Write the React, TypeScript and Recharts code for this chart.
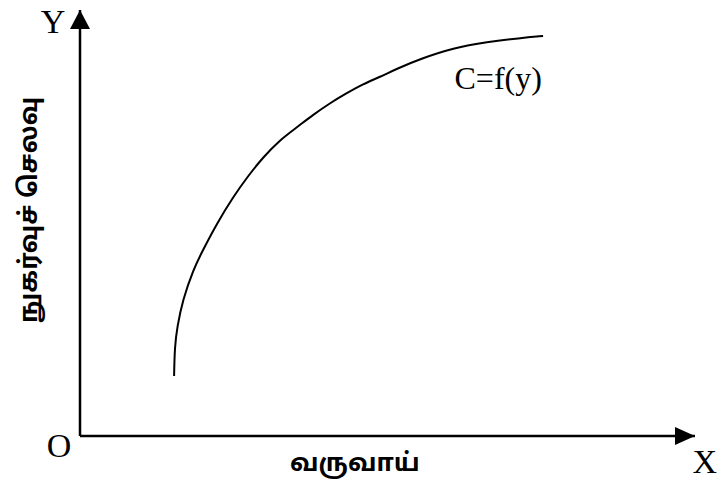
import React from "react";
import { LineChart, Line, XAxis, YAxis, ReferenceDot, ReferenceLine } from "recharts";

// income (x) vs consumption spending (y)
const incomeVals = [15.3, 15.4, 15.8, 16.7, 18.4, 20.0, 22.3, 24.9, 27.2, 29.8, 32.5, 35.3, 37.9, 40.7, 43.4, 46.0, 48.8, 51.5, 55.3, 60.7, 66.2, 71.5, 75.3];
const spendVals = [14.1, 20.9, 25.6, 31.9, 39.0, 43.7, 50.0, 56.1, 60.8, 65.5, 69.5, 72.5, 75.4, 78.2, 80.5, 82.6, 84.3, 86.2, 88.5, 91.1, 92.5, 93.4, 93.9];

const curve = incomeVals.map((x, i) => ({ x, y: spendVals[i] }));

const serif = "'Liberation Serif', 'Times New Roman', serif";
const tamil = "'Noto Sans Tamil', 'Lohit Tamil', 'Noto Sans', sans-serif";

const txt = (text: string, size: number, font: string, rotate = 0, weight = "normal") => (props: any) => (
  <text
    x={props.cx}
    y={props.cy}
    fontSize={size}
    fontFamily={font}
    fontWeight={weight}
    fill="#000"
    textAnchor="middle"
    dominantBaseline="central"
    transform={rotate ? `rotate(${rotate} ${props.cx} ${props.cy})` : undefined}
  >
    {text}
  </text>
);

const upArrow = (p: any) => (
  <polygon points={`${p.cx},${p.cy} ${p.cx - 10},${p.cy + 19} ${p.cx + 10},${p.cy + 19}`} fill="#000" />
);
const rightArrow = (p: any) => (
  <polygon points={`${p.cx},${p.cy} ${p.cx - 20},${p.cy - 9} ${p.cx - 20},${p.cy + 9}`} fill="#000" />
);

export default function App() {
  return (
    <div style={{ position: "absolute", left: 0, top: 0, width: 720, height: 492, background: "#fff" }}>
      <LineChart width={720} height={492} data={curve} margin={{ top: 10, right: 25, bottom: 56, left: 80 }}>
        <XAxis type="number" dataKey="x" domain={[0, 100]} hide />
        <YAxis type="number" dataKey="y" domain={[0, 100]} hide />
        <ReferenceLine x={0} stroke="#000" strokeWidth={2.5} ifOverflow="visible" />
        <ReferenceLine y={0} stroke="#000" strokeWidth={2.5} ifOverflow="visible" />
        <Line type="basis" dataKey="y" stroke="#000" strokeWidth={2} dot={false} isAnimationActive={false} />
        <ReferenceDot x={0} y={100} r={0} ifOverflow="visible" shape={upArrow} />
        <ReferenceDot x={100} y={0} r={0} ifOverflow="visible" shape={rightArrow} />
        <ReferenceDot x={-4.4} y={97.4} r={0} ifOverflow="visible" shape={txt("Y", 34, serif)} />
        <ReferenceDot x={-3.4} y={-2.3} r={0} ifOverflow="visible" shape={txt("O", 34, serif)} />
        <ReferenceDot x={101.6} y={-5.9} r={0} ifOverflow="visible" shape={txt("X", 34, serif)} />
        <ReferenceDot x={68.0} y={84.0} r={0} ifOverflow="visible" shape={txt("C=f(y)", 32, serif)} />
        <ReferenceDot x={44.7} y={-6.8} r={0} ifOverflow="visible" shape={txt("வருவாய்", 25, tamil, 0, "bold")} />
        <ReferenceDot x={-8.1} y={53.1} r={0} ifOverflow="visible" shape={txt("நுகர்வுச் செலவு", 25, tamil, -90, "bold")} />
      </LineChart>
    </div>
  );
}
